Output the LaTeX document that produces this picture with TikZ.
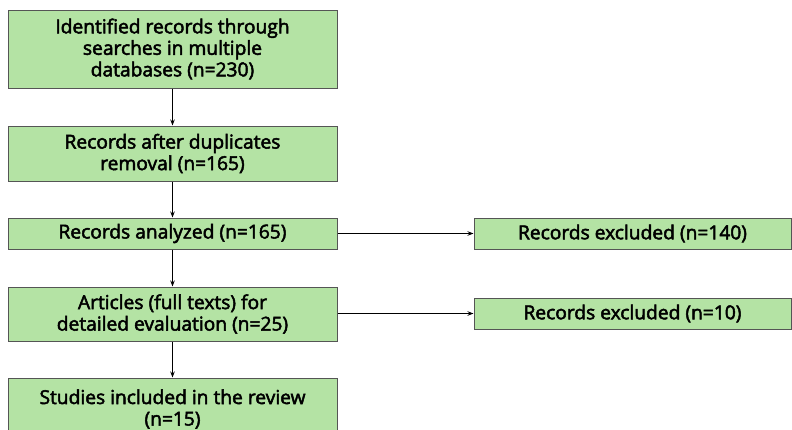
\documentclass[tikz,border=0pt]{standalone}
\usepackage{fontspec}
\setmainfont{Open Sans}
\newfontfamily\boxfont{Open Sans}[FakeBold=2.6]
\usetikzlibrary{arrows.meta}
\definecolor{boxgreen}{RGB}{180,227,164}
\definecolor{boxline}{RGB}{85,85,85}

\begin{document}
\begin{tikzpicture}[x=1pt, y=1pt,
    stagebox/.style={draw=boxline, line width=1pt, fill=boxgreen, align=center,
      inner sep=0pt, font=\boxfont\fontsize{19.2}{21.5}\selectfont},
    flow/.style={-{Stealth[length=6pt,width=4.5pt]}, line width=1pt}]
    \useasboundingbox (0,0) rectangle (792,-429);

    % draw left column
    \node[stagebox, minimum width=329, minimum height=78] (found) at (172.5,-49)
      {Identified records through\\searches in multiple\\databases (n=230)};
    \node[stagebox, minimum width=329, minimum height=55] (dedup) at (172.5,-153.5)
      {Records after duplicates\\removal (n=165)};
    \node[stagebox, minimum width=329, minimum height=31] (analyzed) at (172.5,-233.5)
      {Records analyzed (n=165)};
    \node[stagebox, minimum width=329, minimum height=54] (fulltext) at (172.5,-314)
      {Articles (full texts) for\\detailed evaluation (n=25)};
    \node[stagebox, minimum width=329, minimum height=62] (included) at (172.5,-409)
      {Studies included in the review\\(n=15)};

    % draw right column
    \node[stagebox, minimum width=317, minimum height=31] (excla) at (632.5,-233.5)
      {Records excluded (n=140)};
    \node[stagebox, minimum width=317, minimum height=31] (exclb) at (632.5,-313.5)
      {Records excluded (n=10)};

    % draw arrows
    \draw[flow] (found) -- (dedup);
    \draw[flow] (dedup) -- (analyzed);
    \draw[flow] (analyzed) -- (fulltext);
    \draw[flow] (fulltext) -- (included);
    \draw[flow] (analyzed) -- (excla);
    \draw[flow] (fulltext.east |- exclb) -- (exclb);
\end{tikzpicture}
\end{document}
